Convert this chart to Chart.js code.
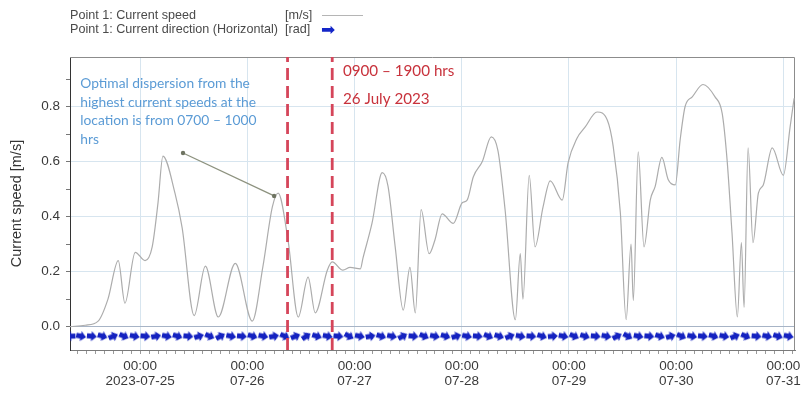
<!DOCTYPE html>
<html>
<head>
<meta charset="utf-8">
<script src="https://cdn.jsdelivr.net/npm/chart.js@4.4.0/dist/chart.umd.min.js"></script>
<style>
    html, body { margin: 0; padding: 0; background: #fff; }
    .wrap { position: relative; width: 804px; height: 393px; }
    .legend { position: absolute; left: 70px; top: 8px; font: 12.6px "Liberation Sans", Arial, sans-serif; color: #4a4a4a; line-height: 14px; }
    .legend .row { position: relative; height: 14px; white-space: nowrap; }
    .legend .unit { position: absolute; left: 215px; top: 0; }
    .legend .line { position: absolute; left: 252px; top: 7px; width: 41px; height: 1px; background: #b5b5b5; }
    .legend .arrow { position: absolute; left: 251px; top: -3px; color: #1426c8; font: 17px "DejaVu Sans"; }
</style>
</head>
<body>
<div class="wrap">
    <div class="legend">
        <div class="row">Point 1: Current speed<span class="unit">[m/s]</span><span class="line"></span></div>
        <div class="row">Point 1: Current direction (Horizontal)<span class="unit">[rad]</span><span class="arrow">➡</span></div>
    </div>
    <canvas id="myChart" width="804" height="393"></canvas>
</div>
<script>
// hours since 2023-07-25 00:00
const speedHours = [-15.7, -12.3, -9.4, -7.2, -4.9, -3.4, -1.1, 1.1, 2.7, 4.0, 5.1, 7.8, 9.4, 12.1, 14.6, 17.5,
    21.3, 25.1, 27.5, 29.6, 30.9, 33.1, 35.4, 37.6, 39.2, 41.9, 43.0, 45.4, 47.0, 49.3, 49.9, 51.9,
    54.2, 55.5, 57.1, 58.9, 60.4, 61.6, 62.9, 64.7, 66.0, 67.6, 70.1, 72.1, 73.2, 74.6, 76.6, 78.6,
    80.1, 81.7, 84.0, 85.1, 85.7, 87.1, 88.4, 90.2, 91.8, 94.5, 95.8, 97.8, 99.6, 102.3, 104.6, 105.9,
    107.5, 108.8, 109.9, 110.4, 111.5, 112.8, 114.2, 115.3, 116.8, 118.2, 119.8, 120.9, 122.0, 123.6,
    126.0, 128.7, 130.3, 131.4, 132.5, 133.7, 134.6, 135.2, 136.1, 137.2, 138.4, 139.5, 141.5, 144.0,
    145.5, 146.4]
const speedValues = [0.0, 0.005, 0.02, 0.10, 0.24, 0.085, 0.27, 0.24, 0.29, 0.45, 0.62, 0.485, 0.36, 0.04, 0.22, 0.035,
    0.23, 0.02, 0.22, 0.435, 0.485, 0.315, 0.035, 0.18, 0.05, 0.205, 0.235, 0.205, 0.215, 0.21, 0.25, 0.375,
    0.56, 0.51, 0.29, 0.06, 0.215, 0.05, 0.425, 0.265, 0.315, 0.41, 0.375, 0.45, 0.46, 0.545, 0.6, 0.69,
    0.64, 0.425, 0.025, 0.265, 0.10, 0.55, 0.29, 0.435, 0.53, 0.46, 0.595, 0.685, 0.725, 0.78, 0.75, 0.655,
    0.415, 0.025, 0.30, 0.095, 0.635, 0.29, 0.46, 0.51, 0.615, 0.535, 0.515, 0.68, 0.80, 0.835,
    0.88, 0.835, 0.775, 0.605, 0.34, 0.035, 0.305, 0.07, 0.65, 0.305, 0.485, 0.515, 0.65, 0.55,
    0.725, 0.83]

const directionHours = [-15.6, -13.2, -10.8, -8.4, -6.0, -3.6, -1.2, 1.2, 3.6, 6.0, 8.4, 10.8, 13.2, 15.6, 18.0, 20.4,
    22.8, 25.2, 27.6, 30.0, 32.4, 34.8, 37.2, 39.6, 42.0, 44.4, 46.8, 49.2, 51.6, 54.0, 56.4, 58.8,
    61.2, 63.6, 66.0, 68.4, 70.8, 73.2, 75.6, 78.0, 80.4, 82.8, 85.2, 87.6, 90.0, 92.4, 94.8, 97.2,
    99.6, 102.0, 104.4, 106.8, 109.2, 111.6, 114.0, 116.4, 118.8, 121.2, 123.6, 126.0, 128.4, 130.8,
    133.2, 135.6, 138.0, 140.4, 142.8, 145.2]
const directionValues = [3.1, 0.2, 0.1, 0.3, 5.9, 0.4, 0.2, 0.1, 6.1, 0.2, 0.3, 0.1, 6.0, 0.4, 5.8, 0.2,
    0.1, 0.3, 0.2, 6.1, 0.4, 5.9, 5.7, 0.3, 0.2, 0.1, 0.5, 0.2, 6.1, 0.3, 0.2, 5.8,
    0.1, 0.4, 0.2, 0.3, 6.0, 0.2, 0.1, 0.4, 0.3, 5.9, 0.2, 0.1, 0.3, 6.2, 0.2, 0.4,
    0.3, 0.1, 0.2, 5.8, 0.5, 0.2, 0.1, 0.3, 6.0, 0.4, 0.2, 0.1, 0.3, 0.2,
    5.9, 0.4, 0.1, 0.2, 0.3, 0.2]

const dayLabels = ['2023-07-25', '07-26', '07-27', '07-28', '07-29', '07-30', '07-31']
const windowHours = [33, 43]   // 0900 and 1900 on 26 July
const noteLines = ['Optimal dispersion from the', 'highest current speeds at the', 'location is from 0700 \u2013 1000', 'hrs']
const windowLines = ['0900 \u2013 1900 hrs', '26 July 2023']

const Y_MIN = -0.085
const Y_MAX = 0.98
const DIRECTION_ROW = -0.035
const FONT = '"Liberation Sans", Arial, sans-serif'

function arrowImage() {
    const c = document.createElement('canvas')
    c.width = 10
    c.height = 10
    const ctx = c.getContext('2d')
    ctx.fillStyle = '#1422c0'
    ctx.beginPath()
    ctx.moveTo(0, 2.5)
    ctx.lineTo(4.5, 2.5)
    ctx.lineTo(4.5, 0)
    ctx.lineTo(10, 5)
    ctx.lineTo(4.5, 10)
    ctx.lineTo(4.5, 7.5)
    ctx.lineTo(0, 7.5)
    ctx.closePath()
    ctx.fill()
    return c
}

const framePlugin = {
    id: 'frame',
    beforeDatasetsDraw(chart) {
        const {ctx, chartArea: a} = chart
        ctx.save()
        ctx.strokeStyle = '#8c8c8c'
        ctx.lineWidth = 1
        ctx.beginPath()
        ctx.moveTo(a.left, a.top + 0.5)
        ctx.lineTo(a.right - 0.5, a.top + 0.5)
        ctx.lineTo(a.right - 0.5, a.bottom)
        ctx.stroke()
        ctx.restore()
    }
}

const notesPlugin = {
    id: 'notes',
    afterDatasetsDraw(chart) {
        const {ctx, scales: {x, y}} = chart
        ctx.save()
        ctx.textBaseline = 'middle'
        ctx.textAlign = 'left'

        ctx.font = '13.8px Lato, "Open Sans", sans-serif'
        ctx.fillStyle = '#5b9bd5'
        noteLines.forEach((line, i) => {
            ctx.fillText(line, x.getPixelForValue(-13.4), y.getPixelForValue(0.882) + i * 18.5)
        })

        ctx.font = '15.2px Lato, "Open Sans", sans-serif'
        ctx.fillStyle = '#c8323c'
        windowLines.forEach((line, i) => {
            ctx.fillText(line, x.getPixelForValue(45.4), y.getPixelForValue(0.929) + i * 28)
        })

        // pointer from the note to the 26 July peak
        const x1 = x.getPixelForValue(9.6), y1 = y.getPixelForValue(0.631)
        const x2 = x.getPixelForValue(30.0), y2 = y.getPixelForValue(0.475)
        ctx.strokeStyle = '#8d927f'
        ctx.fillStyle = '#6f7462'
        ctx.lineWidth = 1.3
        ctx.beginPath()
        ctx.moveTo(x1, y1)
        ctx.lineTo(x2, y2)
        ctx.stroke()
        ;[[x1, y1], [x2, y2]].forEach(([px, py]) => {
            ctx.beginPath()
            ctx.arc(px, py, 2.2, 0, Math.PI * 2)
            ctx.fill()
        })
        ctx.restore()
    }
}

const arrow = arrowImage()
const element = document.getElementById('myChart')

const data = {
    datasets: [
        {
            label: 'Point 1: Current speed',
            data: speedHours.map((h, i) => ({x: h, y: speedValues[i]})),
            borderColor: '#acacac',
            borderWidth: 1.2,
            pointRadius: 0,
            cubicInterpolationMode: 'monotone',
            order: 3
        },
        {
            label: 'Point 1: Current direction (Horizontal)',
            data: directionHours.map((h) => ({x: h, y: DIRECTION_ROW})),
            showLine: false,
            pointStyle: arrow,
            rotation: (c) => directionValues[c.dataIndex] * 180 / Math.PI,
            order: 2
        },
        ...windowHours.map((h) => ({
            label: 'window',
            data: [{x: h, y: Y_MIN}, {x: h, y: Y_MAX}],
            borderColor: '#d5455a',
            borderWidth: 2.8,
            borderDash: [12, 6],
            pointRadius: 0,
            order: 1
        }))
    ]
}

const options = {
    responsive: false,
    animation: false,
    layout: {
        padding: {top: 57, right: 9, left: 0, bottom: 0}
    },
    scales: {
        x: {
            type: 'linear',
            min: -15.7,
            max: 146.6,
            afterFit: (scale) => { scale.height = 43 },
            afterBuildTicks: (scale) => {
                const ticks = []
                for (let h = -14; h <= 146; h += 2) ticks.push({value: h})
                scale.ticks = ticks
            },
            border: {color: '#7a7a7a'},
            grid: {
                color: (c) => c.tick && c.tick.value % 24 === 0 ? '#d7e5ef' : 'rgba(0,0,0,0)',
                tickColor: '#9a9a9a',
                tickLength: 4,
                drawOnChartArea: true
            },
            ticks: {
                autoSkip: false,
                maxRotation: 0,
                padding: 5,
                color: '#3a3a3a',
                font: {family: FONT, size: 13.5, lineHeight: 1.12},
                callback: (value) => value % 24 === 0 ? ['00:00', dayLabels[value / 24]] : ''
            }
        },
        y: {
            min: Y_MIN,
            max: Y_MAX,
            afterFit: (scale) => { scale.width = 70 },
            afterBuildTicks: (scale) => {
                const ticks = []
                for (let i = 0; i <= 19; i++) ticks.push({value: i * 0.05})
                scale.ticks = ticks
            },
            border: {color: '#333'},
            grid: {
                color: (c) => {
                    if (!c.tick) return 'rgba(0,0,0,0)'
                    const k = Math.round(c.tick.value * 20)
                    if (k === 0) return '#a7b4c6'
                    return k % 4 === 0 ? '#d7e5ef' : 'rgba(0,0,0,0)'
                },
                tickColor: '#777',
                tickLength: 4
            },
            ticks: {
                padding: 6,
                color: '#3a3a3a',
                font: {family: FONT, size: 13.5},
                callback: (value) => Math.round(value * 20) % 4 === 0 ? value.toFixed(1) : ''
            },
            title: {
                display: true,
                text: 'Current speed [m/s]',
                color: '#333',
                font: {family: FONT, size: 14.5},
                padding: {top: 8, bottom: 0}
            }
        }
    },
    plugins: {
        legend: {display: false},
        tooltip: {enabled: false}
    }
}

new Chart(element, {
    type: 'line',
    data: data,
    options: options,
    plugins: [framePlugin, notesPlugin]
})
</script>
</body>
</html>
